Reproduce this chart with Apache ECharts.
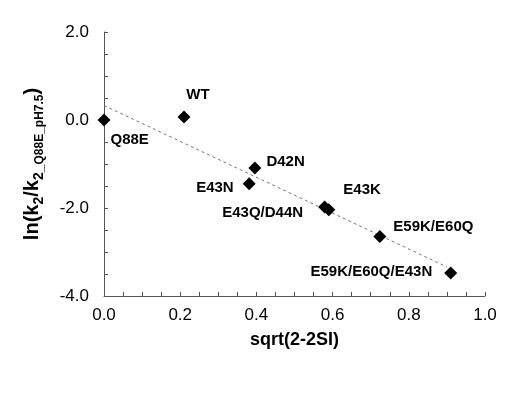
<!DOCTYPE html>
<html>
<head>
<meta charset="utf-8">
<script src="https://cdn.jsdelivr.net/npm/echarts@6/dist/echarts.min.js"></script>
<style>html,body{margin:0;padding:0;background:#fff}#c{width:523px;height:393px}</style>
</head>
<body>
<div id="c"></div>
<script>
const names = ['Q88E','WT','D42N','E43N','E43Q/D44N','E43K','E59K/E60Q','E59K/E60Q/E43N'];
const xValues = [0.0, 0.21, 0.396, 0.381, 0.579, 0.590, 0.724, 0.910];
const yValues = [0.0, 0.07, -1.09, -1.45, -1.98, -2.04, -2.65, -3.48];
const fitX = [0.0, 0.90];
const fitY = [0.33, -3.34];
const xTicks = [0.0, 0.2, 0.4, 0.6, 0.8, 1.0];
const yTicks = [-4.0, -2.0, 0.0, 2.0];

const labelPlace = {
  'Q88E': {position: 'right', offset: [-5, 20]},
  'WT': {position: 'top', offset: [14, -3]},
  'D42N': {position: 'right', offset: [0, -6]},
  'E43N': {position: 'left', offset: [-4, 4]},
  'E43Q/D44N': {position: 'left', offset: [-10, 6]},
  'E43K': {position: 'right', offset: [3, -20]},
  'E59K/E60Q': {position: 'right', offset: [2, -10]},
  'E59K/E60Q/E43N': {position: 'left', offset: [-7, -1]}
};

function isTick(v, ticks){ return ticks.some(t => Math.abs(t - v) < 1e-6); }

const chart = echarts.init(document.getElementById('c'), null, {renderer: 'canvas'});
const font = 'Liberation Sans, Arial, Helvetica, sans-serif';
chart.setOption({
  backgroundColor: '#fff',
  animation: false,
  grid: {left: 104, right: 38, top: 32, bottom: 97},
  xAxis: {
    type: 'value', min: 0, max: 1, interval: 0.05,
    name: 'sqrt(2-2SI)', nameLocation: 'middle', nameGap: 35,
    nameTextStyle: {fontFamily: font, fontWeight: 'bold', fontSize: 18, color: '#000'},
    axisLine: {show: true, onZero: false, lineStyle: {color: '#555', width: 1}},
    axisTick: {show: true, inside: true, length: 4, lineStyle: {color: '#555'}},
    splitLine: {show: false},
    axisLabel: {margin: 11, fontFamily: font, fontSize: 17, color: '#000',
      formatter: v => isTick(v, xTicks) ? v.toFixed(1) : ''}
  },
  yAxis: {
    type: 'value', min: -4, max: 2, interval: 0.5,
    name: '{m|ln(k}{s|2}{m|/k}{s|2_}{t|Q88E_pH7.5}{m|)}',
    nameLocation: 'middle', nameGap: 62, nameRotate: 90,
    nameTextStyle: {
      fontFamily: font, fontWeight: 'bold', color: '#000',
      rich: {
        m: {fontFamily: font, fontWeight: 'bold', fontSize: 20, color: '#000', lineHeight: 24, verticalAlign: 'bottom'},
        s: {fontFamily: font, fontWeight: 'bold', fontSize: 14, color: '#000', lineHeight: 24, verticalAlign: 'bottom', padding: [0,0,-4,0]},
        t: {fontFamily: font, fontWeight: 'bold', fontSize: 12, color: '#000', lineHeight: 24, verticalAlign: 'bottom', padding: [0,0,-4,0]}
      }
    },
    axisLine: {show: true, onZero: false, lineStyle: {color: '#555', width: 1}},
    axisTick: {show: true, inside: true, length: 4, lineStyle: {color: '#555'}},
    splitLine: {show: false},
    axisLabel: {margin: 15, fontFamily: font, fontSize: 17, color: '#000',
      formatter: v => isTick(v, yTicks) ? v.toFixed(1) : ''}
  },
  series: [
    {
      type: 'line',
      data: fitX.map((x, i) => [x, fitY[i]]),
      showSymbol: false, symbol: 'none',
      lineStyle: {color: '#777', width: 1, type: [3, 3]},
      z: 1
    },
    {
      type: 'scatter',
      symbol: 'diamond', symbolSize: 13,
      itemStyle: {color: '#000', opacity: 1},
      data: names.map((n, i) => ({
        name: n, value: [xValues[i], yValues[i]],
        label: Object.assign({show: true, formatter: n, fontFamily: font, fontWeight: 'bold', fontSize: 15, color: '#000'}, labelPlace[n])
      })),
      z: 2
    }
  ]
});
</script>
</body>
</html>
